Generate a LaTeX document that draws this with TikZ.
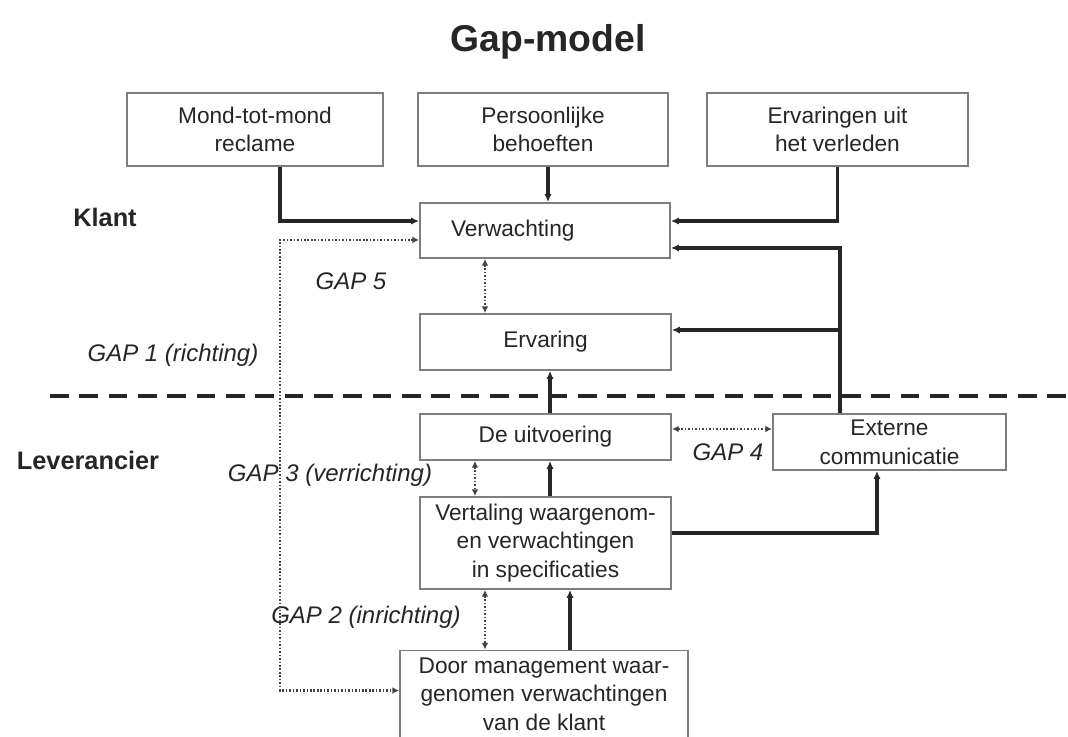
\documentclass[tikz,border=0pt]{standalone}
\usepackage{fontspec}
\setmainfont{Liberation Sans}
\usetikzlibrary{arrows.meta}
\definecolor{txt}{HTML}{262626}
\definecolor{bord}{HTML}{7E7E7E}
\definecolor{ln}{HTML}{262626}
\definecolor{dt}{HTML}{444444}
\tikzset{
  box/.style={draw=bord, line width=1.4pt, fill=white, text=txt, align=center,
    font=\fontsize{17}{21.5}\selectfont, inner sep=0pt},
  conn/.style={draw=ln, line width=2.4pt, -{Latex[length=6pt,width=5.5pt]}},
  dotarrow/.style={draw=dt, line width=1.8pt, dash pattern=on 1.2pt off 1.4pt,
    {Latex[length=5pt,width=5pt]}-{Latex[length=5pt,width=5pt]}},
  gaplabel/.style={text=txt, font=\fontsize{18}{21}\selectfont\itshape},
  sidelabel/.style={text=txt, font=\fontsize{19}{22}\selectfont\bfseries},
}
\begin{document}
\begin{tikzpicture}[x=0.75pt,y=-0.75pt]
\useasboundingbox (0,0) rectangle (1068,737);
\fill[white] (0,0) rectangle (1068,737);

% title
\node[text=txt, font=\fontsize{28}{32}\selectfont\bfseries] (title) at (548,42) {Gap-model};

% top boxes
\node[box, minimum width=192pt, minimum height=54.75pt] (mond) at (255,129.5) {Mond-tot-mond\\reclame};
\node[box, minimum width=187.5pt, minimum height=54.75pt] (pers) at (543,129.5) {Persoonlijke\\behoeften};
\node[box, minimum width=195.75pt, minimum height=54.75pt] (erv) at (837.5,129.5) {Ervaringen uit\\het verleden};

% klant boxes
\node[box, minimum width=187.5pt, minimum height=41.25pt, text width=141pt, inner xsep=23.25pt, align=left] (verw) at (545,230.5) {Verwachting};
\node[box, minimum width=188.25pt, minimum height=42pt] (ervaring) at (545.5,342) {Ervaring};

% leverancier boxes
\node[box, minimum width=188.25pt, minimum height=34.5pt] (uitv) at (545.5,437) {De uitvoering};
\node[box, minimum width=174.75pt, minimum height=42pt] (ext) at (889.5,442) {Externe\\communicatie};
\node[box, minimum width=188.25pt, minimum height=69pt] (vert) at (545.5,543) {Vertaling waargenom-\\en verwachtingen\\in specificaties};
\node[box, minimum width=216pt, minimum height=65.25pt] (door) at (544,694) {Door management waar-\\genomen verwachtingen\\van de klant};

% side labels
\node[sidelabel] (klant) at (105,217) {Klant};
\node[sidelabel] (lev) at (88,460) {Leverancier};

% gap labels
\node[gaplabel] (gap5) at (351,281) {GAP 5};
\node[gaplabel] (gap1) at (173,355) {GAP 1 (richting)};
\node[gaplabel] (gap3) at (330,475) {GAP 3 (verrichting)};
\node[gaplabel] (gap4) at (728,452) {GAP 4};
\node[gaplabel] (gap2) at (366,617) {GAP 2 (inrichting)};

% dashed separator
\coordinate (sepL) at (50,396);
\coordinate (sepR) at (1068,396);
\draw[ln, line width=2.4pt, dash pattern=on 14pt off 8pt] (sepL) -- (sepR);

% solid connectors
\coordinate (m1) at ([xshift=18.75pt]mond.south);
\draw[conn] (m1) |- ([yshift=7.1pt]verw.west);
\coordinate (p1) at ([xshift=3.75pt]pers.south);
\draw[conn] (p1) -- (p1 |- verw.north);
\draw[conn] (erv.south) |- ([yshift=7.1pt]verw.east);
\coordinate (e1) at ([xshift=-37.1pt]ext.north);
\draw[conn] (e1) |- ([yshift=-13.1pt]verw.east);
\coordinate (e2) at ([yshift=9pt]ervaring.east);
\draw[conn] (e1 |- e2) -- (e2);
\coordinate (u1) at ([xshift=3.4pt]uitv.north);
\draw[conn] (u1) -- (u1 |- ervaring.south);
\coordinate (v1) at ([xshift=3.4pt]vert.north);
\draw[conn] (v1) -- (v1 |- uitv.south);
\coordinate (x1) at ([xshift=-9.4pt]ext.south);
\draw[conn] ([yshift=7.5pt]vert.east) -| (x1);
\coordinate (d1) at ([xshift=19.5pt]door.north);
\draw[conn] (d1) -- (d1 |- vert.south);

% dotted gap arrows
\coordinate (g5) at ([xshift=-45pt]verw.south);
\draw[dotarrow] (g5) -- (g5 |- ervaring.north);
\coordinate (g3) at ([xshift=-52.9pt]uitv.south);
\draw[dotarrow] (g3) -- (g3 |- vert.north);
\coordinate (g2) at ([xshift=-45.4pt]vert.south);
\draw[dotarrow] (g2) -- (g2 |- door.north);
\coordinate (g4) at ([yshift=6pt]uitv.east);
\draw[dotarrow] (g4) -- (g4 -| ext.west);
\coordinate (g1a) at ([yshift=-7.1pt]verw.west);
\coordinate (g1b) at ([yshift=2.6pt]door.west);
\coordinate (g1c) at (280,0);
\draw[dotarrow] (g1a) -| (g1c |- g1b) -- (g1b);
\end{tikzpicture}
\end{document}
